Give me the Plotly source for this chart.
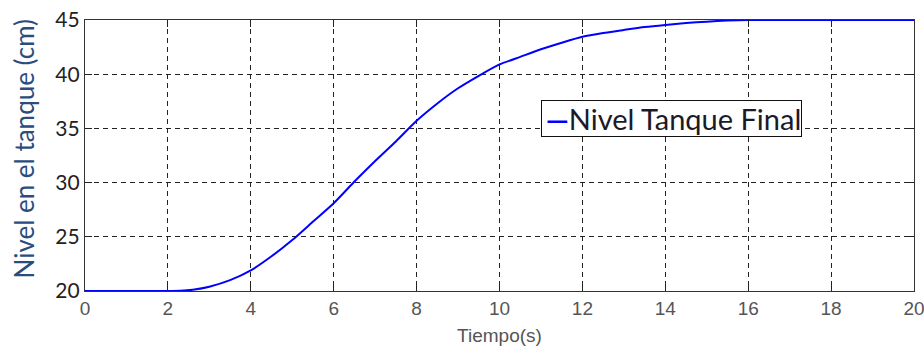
import plotly.graph_objects as go

# Tank level response over time
tiempo = [0, 1, 2, 2.3, 2.6, 3, 3.5, 4, 4.5, 5, 5.5, 6, 6.5, 7, 7.5, 8, 8.5,
          9, 9.5, 10, 10.5, 11, 11.5, 12, 12.5, 13, 13.5, 14, 14.5, 15, 15.5,
          16, 18, 20]
nivel = [20, 20, 20, 20.02, 20.12, 20.4, 21.0, 21.9, 23.2, 24.7, 26.4, 28.1,
         30.1, 32.0, 33.8, 35.7, 37.3, 38.7, 39.85, 40.9, 41.6, 42.3, 42.9,
         43.45, 43.8, 44.08, 44.35, 44.55, 44.72, 44.85, 44.95, 45.0, 45.0, 45.0]

serie = "Nivel Tanque Final"
x_ticks = list(range(0, 21, 2))
y_ticks = list(range(20, 46, 5))

fig = go.Figure()
fig.add_trace(go.Scatter(
    x=tiempo, y=nivel, mode="lines", name=serie, showlegend=False,
    line=dict(color="#0000ff", width=2, shape="spline", smoothing=0.6),
))

grid = dict(showgrid=True, gridcolor="#222222", gridwidth=1, griddash="5px,4px",
            showline=True, linecolor="#333333", linewidth=1.3, mirror="ticks",
            ticks="inside", ticklen=7, tickcolor="#222222", zeroline=False,
            automargin=False, ticklabeloverflow="allow")

fig.update_layout(
    width=924, height=347,
    margin=dict(l=85, r=10, t=20, b=56),
    paper_bgcolor="white", plot_bgcolor="white",
    xaxis=dict(range=[0, 20], tickvals=x_ticks,
               tickfont=dict(family="Liberation Sans", size=19, color="#555555"),
               title=dict(text="Tiempo(s)", standoff=10,
                          font=dict(family="Liberation Sans", size=19, color="#555555")),
               **grid),
    yaxis=dict(range=[20, 45], tickvals=y_ticks,
               tickfont=dict(family="Lato", size=21, color="#222222"),
               **grid),
    annotations=[
        # y-axis title
        dict(text="Nivel en el tanque (cm)", textangle=-90,
             xref="paper", yref="paper", x=0, y=0.5, xanchor="center", yanchor="middle",
             xshift=-62, yshift=7, showarrow=False,
             font=dict(family="Lato", size=26, color="#2b4c7e")),
        # legend box for the series
        dict(text="\u2009<span style='color:#0000ff'><b>\u2014</b></span>" + serie,
             xref="paper", yref="paper", x=0.550, y=0.703, xanchor="left", yanchor="top",
             showarrow=False, bgcolor="white", bordercolor="#111111", borderwidth=1,
             borderpad=0, font=dict(family="Lato", size=29, color="#1a1a2a")),
    ],
)

fig.write_html("out.html")
